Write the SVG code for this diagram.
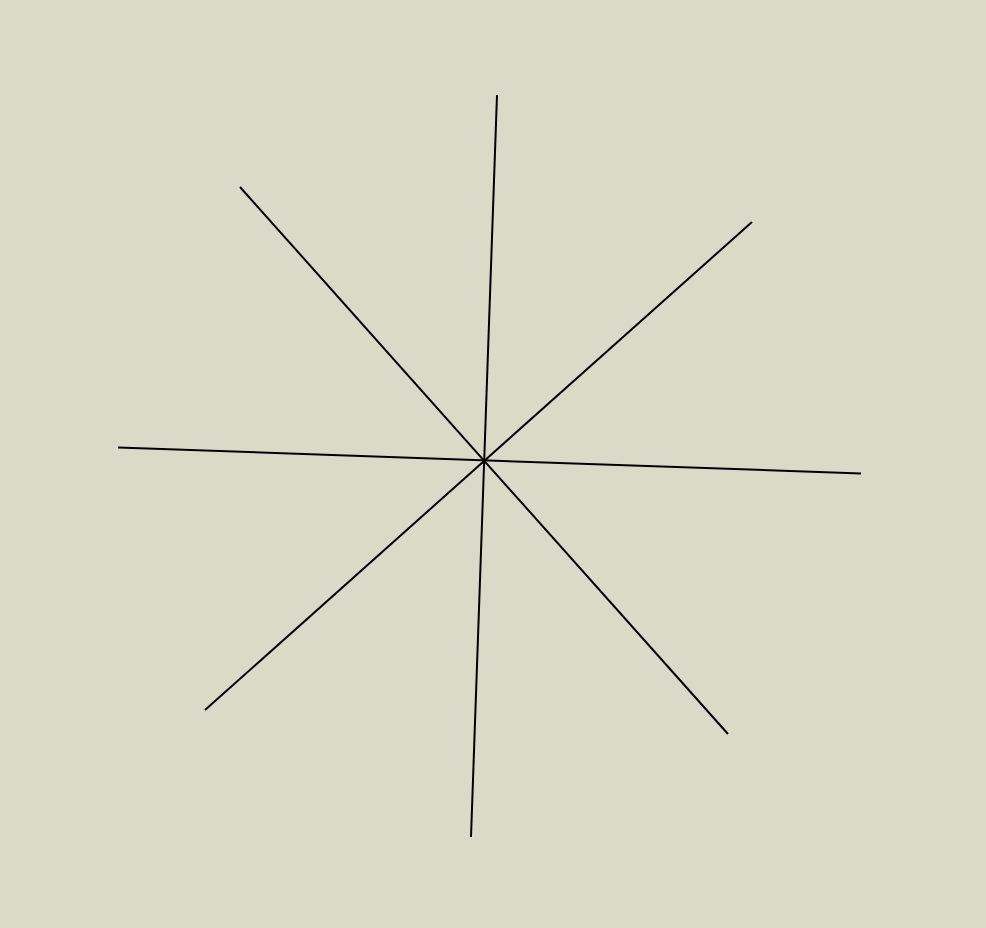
<svg xmlns="http://www.w3.org/2000/svg" width="986" height="928" viewBox="0 0 986 928">
<style>
.ray{stroke:#000;stroke-width:2;fill:none;stroke-linecap:butt}
</style>
<rect width="986" height="928" fill="#dbd9c7"/>
<g id="connectors">
<line class="ray" x1="497" y1="95" x2="471" y2="837"/>
<line class="ray" x1="240" y1="187" x2="728" y2="734"/>
<line class="ray" x1="752" y1="222" x2="205" y2="710"/>
<line class="ray" x1="118" y1="447.5" x2="861" y2="473.5"/>
</g>
</svg>
